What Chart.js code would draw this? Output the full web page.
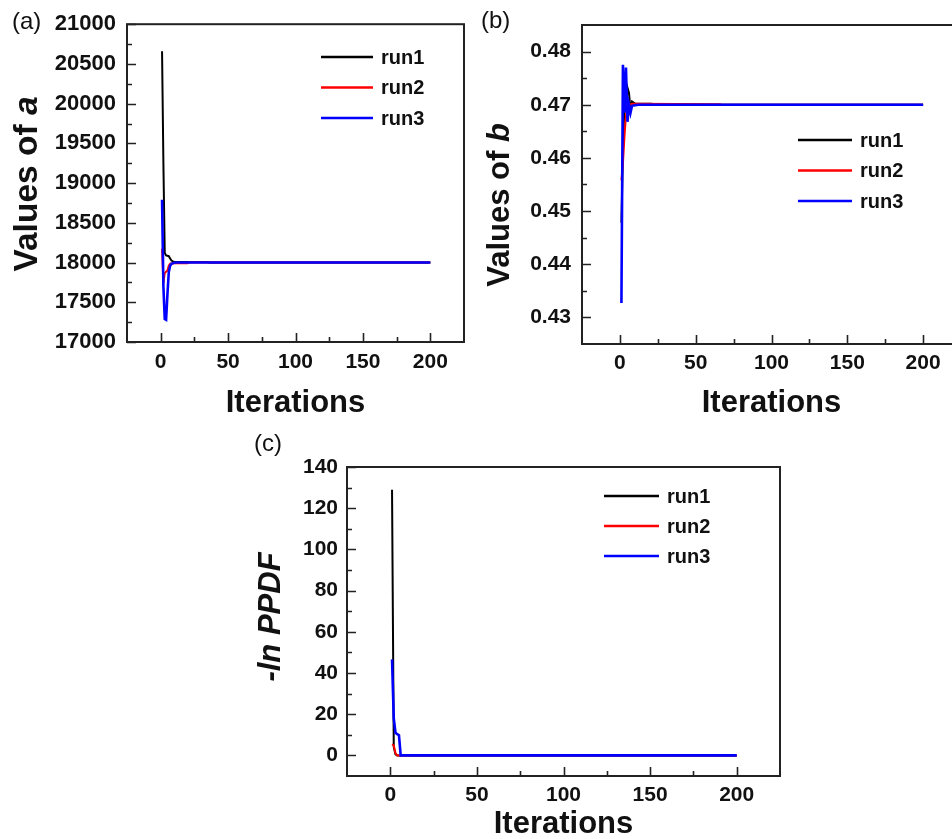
<!DOCTYPE html>
<html>
<head>
<meta charset="utf-8">
<title>Convergence of a, b and -ln PPDF</title>
<script src="https://cdn.jsdelivr.net/npm/chart.js@4.4.0/dist/chart.umd.min.js"></script>
<style>
  html, body { margin: 0; padding: 0; background: #fff; overflow: hidden; }
  #page { position: relative; width: 952px; height: 839px; overflow: hidden; background: #fff; }
  .panel { position: absolute; }
  #panelA { left: 0; top: 0; width: 480px; height: 430px; }
  #panelB { left: 470px; top: 0; width: 560px; height: 430px; }
  #panelC { left: 240px; top: 420px; width: 560px; height: 440px; }
</style>
</head>
<body>
<div id="page">
  <div class="panel" id="panelA"><canvas id="chartA"></canvas></div>
  <div class="panel" id="panelB"><canvas id="chartB"></canvas></div>
  <div class="panel" id="panelC"><canvas id="chartC"></canvas></div>
</div>
<script>
const runLabels = ["run1", "run2", "run3"];
const runColors = ["#000000", "#ff0000", "#0000ff"];
const runWidths = [2, 2, 2.6];

const iterRange = [-25, 225];
const iterTicks = [0, 50, 100, 150, 200];

// (a) values of a
const aRun1Iter = [1, 2, 3, 4, 5, 6, 7, 8, 9, 10, 35, 36, 200];
const aRun1 = [20660, 19250, 18120, 18090, 18085, 18080, 18050, 18025, 18015, 18010, 18006, 18000, 18000];
const aRun2Iter = [1, 2, 3, 4, 5, 6, 7, 10, 20, 21, 200];
const aRun2 = [18175, 17740, 17870, 17885, 17900, 17960, 17985, 17990, 17992, 18000, 18000];
const aRun3Iter = [1, 2, 3, 4, 5, 6, 7, 8, 10, 12, 200];
const aRun3 = [18790, 17700, 17290, 17280, 17600, 17880, 17960, 17985, 17997, 18000, 18000];
const aRange = [17000, 21000];
const aTicks = [17000, 17500, 18000, 18500, 19000, 19500, 20000, 20500, 21000];

// (b) values of b
const bRun1Iter = [1, 2, 3, 4, 5, 6, 7, 8, 10, 21, 22, 200];
const bRun1 = [0.4478, 0.4615, 0.4700, 0.4690, 0.4732, 0.4722, 0.4690, 0.4706, 0.4702, 0.4702, 0.4700, 0.4700];
const bRun2Iter = [1, 2, 3, 4, 5, 6, 8, 66, 67, 200];
const bRun2 = [0.4558, 0.4590, 0.4640, 0.4680, 0.4695, 0.4700, 0.4702, 0.4701, 0.4700, 0.4700];
const bRun3Iter = [1, 2, 3, 4, 5, 6, 7, 8, 10, 12, 200];
const bRun3 = [0.4327, 0.4775, 0.4685, 0.4770, 0.4668, 0.4700, 0.4685, 0.4698, 0.4699, 0.4700, 0.4700];
const bRange = [0.425, 0.485];
const bTicks = [0.43, 0.44, 0.45, 0.46, 0.47, 0.48];

// (c) -ln PPDF
const cRun1Iter = [1, 2, 3, 4, 200];
const cRun1 = [129, 4, 0.5, 0, 0];
const cRun2Iter = [1, 2, 3, 4, 200];
const cRun2 = [5.3, 4.8, 1.0, 0, 0];
const cRun3Iter = [1, 2, 3, 4, 5, 6, 200];
const cRun3 = [46.6, 18, 11, 10.3, 9.8, 0, 0];
const cRange = [-10, 140];
const cTicks = [0, 20, 40, 60, 80, 100, 120, 140];

const fontFamily = "'Liberation Sans', Arial, Helvetica, sans-serif";
const inkColor = "#111111";

function midpoints(values) {
  const mids = [];
  for (let i = 1; i < values.length; i++) {
    mids.push((values[i - 1] + values[i]) / 2);
  }
  return mids;
}

// box around the plot with inward major and minor ticks on the left and bottom
const frameAndTicks = {
  id: "frameAndTicks",
  afterDraw(chart) {
    const { ctx, chartArea: area, scales } = chart;
    const xValues = scales.x.ticks.map((t) => t.value);
    const yValues = scales.y.ticks.map((t) => t.value);

    ctx.save();
    ctx.strokeStyle = "#222222";
    ctx.lineWidth = 1.6;
    ctx.beginPath();
    xValues.forEach((v) => {
      const px = Math.round(scales.x.getPixelForValue(v)) + 0.5;
      ctx.moveTo(px, area.bottom);
      ctx.lineTo(px, area.bottom - 9);
    });
    midpoints(xValues).forEach((v) => {
      const px = Math.round(scales.x.getPixelForValue(v)) + 0.5;
      ctx.moveTo(px, area.bottom);
      ctx.lineTo(px, area.bottom - 5);
    });
    yValues.forEach((v) => {
      const py = Math.round(scales.y.getPixelForValue(v)) + 0.5;
      ctx.moveTo(area.left, py);
      ctx.lineTo(area.left + 9, py);
    });
    midpoints(yValues).forEach((v) => {
      const py = Math.round(scales.y.getPixelForValue(v)) + 0.5;
      ctx.moveTo(area.left, py);
      ctx.lineTo(area.left + 5, py);
    });
    ctx.stroke();

    ctx.lineWidth = 2;
    ctx.strokeRect(area.left, area.top, area.right - area.left, area.bottom - area.top);
    ctx.restore();
  }
};

// panel letter and the rotated y title (mixed upright / italic parts)
const panelText = {
  id: "panelText",
  afterDraw(chart, args, opts) {
    const { ctx } = chart;
    ctx.save();
    ctx.fillStyle = inkColor;
    ctx.font = `24px ${fontFamily}`;
    ctx.textAlign = "left";
    ctx.textBaseline = "middle";
    ctx.fillText(opts.letter, opts.letterX, opts.letterY);

    ctx.translate(opts.titleX, opts.titleY);
    ctx.rotate(-Math.PI / 2);
    const fonts = opts.title.map((part) => `${part.italic ? "italic " : ""}bold ${opts.titleSize}px ${fontFamily}`);
    let total = 0;
    const widths = opts.title.map((part, i) => {
      ctx.font = fonts[i];
      const w = ctx.measureText(part.text).width;
      total += w;
      return w;
    });
    let x = -total / 2;
    opts.title.forEach((part, i) => {
      ctx.font = fonts[i];
      ctx.fillText(part.text, x, 0);
      x += widths[i];
    });
    ctx.restore();
  }
};

// line samples with run names, placed inside the plot
const runLegend = {
  id: "runLegend",
  afterDraw(chart, args, opts) {
    const { ctx } = chart;
    ctx.save();
    ctx.font = `bold 20px ${fontFamily}`;
    ctx.textAlign = "left";
    ctx.textBaseline = "middle";
    chart.data.datasets.forEach((ds, i) => {
      const y = opts.y + i * opts.step;
      ctx.strokeStyle = ds.borderColor;
      ctx.lineWidth = 2.5;
      ctx.beginPath();
      ctx.moveTo(opts.x, y);
      ctx.lineTo(opts.x + opts.length, y);
      ctx.stroke();
      ctx.fillStyle = inkColor;
      ctx.fillText(ds.label, opts.x + opts.length + 8, y + 1);
    });
    ctx.restore();
  }
};

function toPoints(iters, values) {
  return iters.map((x, i) => ({ x, y: values[i] }));
}

function makePanel(canvasId, panel) {
  const canvas = document.getElementById(canvasId);
  const datasets = panel.series.map((s, i) => ({
    label: runLabels[i],
    data: toPoints(s[0], s[1]),
    borderColor: runColors[i],
    borderWidth: runWidths[i],
    pointRadius: 0,
    tension: 0,
    order: 3 - i
  }));

  return new Chart(canvas, {
    type: "line",
    data: { datasets },
    options: {
      responsive: true,
      maintainAspectRatio: false,
      animation: false,
      devicePixelRatio: 1,
      layout: { padding: panel.padding },
      plugins: {
        legend: { display: false },
        tooltip: { enabled: false },
        panelText: panel.text,
        runLegend: panel.legend
      },
      scales: {
        x: {
          type: "linear",
          min: iterRange[0],
          max: iterRange[1],
          afterBuildTicks: (scale) => {
            scale.ticks = iterTicks.map((value) => ({ value }));
          },
          afterFit: (scale) => {
            scale.height = panel.xHeight;
          },
          grid: { display: false, drawTicks: false },
          border: { display: false },
          ticks: {
            autoSkip: false,
            maxRotation: 0,
            padding: panel.xTickPad,
            color: inkColor,
            font: { family: fontFamily, size: 21, weight: "bold" },
            callback: (value) => String(value)
          },
          title: {
            display: true,
            text: "Iterations",
            color: inkColor,
            font: { family: fontFamily, size: 31, weight: "bold" },
            padding: { top: 0, bottom: panel.xTitlePad }
          }
        },
        y: {
          type: "linear",
          min: panel.range[0],
          max: panel.range[1],
          afterBuildTicks: (scale) => {
            scale.ticks = panel.ticks.map((value) => ({ value }));
          },
          afterFit: (scale) => {
            scale.width = panel.yWidth;
          },
          grid: { display: false, drawTicks: false },
          border: { display: false },
          ticks: {
            autoSkip: false,
            padding: panel.yTickPad,
            color: inkColor,
            font: { family: fontFamily, size: panel.yTickSize, weight: "bold" },
            callback: (value) => String(value)
          }
        }
      }
    },
    plugins: [frameAndTicks, panelText, runLegend]
  });
}

makePanel("chartA", {
  series: [[aRun1Iter, aRun1], [aRun2Iter, aRun2], [aRun3Iter, aRun3]],
  range: aRange,
  ticks: aTicks,
  padding: { top: 23, right: 16, bottom: 0, left: 0 },
  yWidth: 127,
  xHeight: 88,
  xTickPad: 8,
  yTickPad: 11,
  yTickSize: 22,
  xTitlePad: 8,
  text: {
    letter: "(a)", letterX: 12, letterY: 22,
    title: [{ text: "Values of ", italic: false }, { text: "a", italic: true }],
    titleSize: 33.5, titleX: 28, titleY: 184
  },
  legend: { x: 321, y: 57, step: 30.5, length: 52 }
});

makePanel("chartB", {
  series: [[bRun1Iter, bRun1], [bRun2Iter, bRun2], [bRun3Iter, bRun3]],
  range: bRange,
  ticks: bTicks,
  padding: { top: 25, right: 69, bottom: 0, left: 0 },
  yWidth: 112,
  xHeight: 86,
  xTickPad: 7,
  yTickPad: 11,
  yTickSize: 21,
  xTitlePad: 8,
  text: {
    letter: "(b)", letterX: 11, letterY: 21,
    title: [{ text: "Values of ", italic: false }, { text: "b", italic: true }],
    titleSize: 31, titleX: 30, titleY: 205
  },
  legend: { x: 328, y: 140, step: 30.5, length: 54 }
});

makePanel("chartC", {
  series: [[cRun1Iter, cRun1], [cRun2Iter, cRun2], [cRun3Iter, cRun3]],
  range: cRange,
  ticks: cTicks,
  padding: { top: 47, right: 20, bottom: 0, left: 0 },
  yWidth: 107,
  xHeight: 84,
  xTickPad: 7,
  yTickPad: 9,
  yTickSize: 21,
  xTitlePad: 17,
  text: {
    letter: "(c)", letterX: 14, letterY: 24,
    title: [{ text: "-ln PPDF", italic: true }],
    titleSize: 31, titleX: 31, titleY: 197
  },
  legend: { x: 364, y: 76, step: 30, length: 55 }
});
</script>
</body>
</html>
